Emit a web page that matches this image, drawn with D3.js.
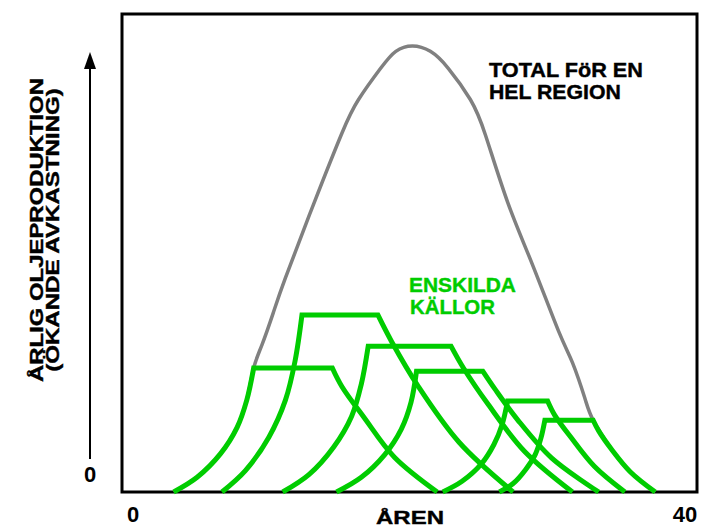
<!DOCTYPE html>
<html>
<head>
<meta charset="utf-8">
<script src="https://cdn.jsdelivr.net/npm/d3@7"></script>
<style>
  body { margin: 0; background: #fff; }
  text { font-family: "Liberation Sans", Arial, Helvetica, sans-serif; font-weight: bold; }
</style>
</head>
<body>
<div id="chart"></div>
<script>
// ------------ data (years, production in % of regional peak)
var xTickLabels = [0, 40];

var totalYears  = [2.8, 4.5, 6.2, 7.4, 8.1, 8.6, 9.2, 10.0, 10.9, 13.0, 15.0, 16.2, 17.8, 18.9, 20.1,
                   21.4, 22.7, 24.3, 25.4, 27.0, 28.8, 30.7, 31.7, 32.6, 33.2, 34.5, 35.9, 37.7];
var totalValues = [0, 3.3, 8.6, 14.5, 20.6, 27.8, 33, 40, 48, 65, 80.5, 88, 95, 98.8, 100,
                   98.8, 95, 88, 80, 65, 51, 36, 29, 21, 16.1, 9.7, 4.5, 0];

// each source: rising part (up to plateau) and declining part (from plateau end)
var wellRiseYears = [
  [2.8, 4.5, 6.2, 7.4, 8.1, 8.6],
  [6.3, 8.0, 9.7, 10.9, 11.6, 12.1],
  [10.7, 12.6, 14.4, 15.7, 16.4, 16.9],
  [14.6, 16.4, 18.1, 19.3, 20.0, 20.4],
  [22.3, 23.7, 25.1, 26.0, 26.6, 27.0],
  [26.4, 27.4, 28.3, 29.0, 29.4, 29.7]
];
var wellRiseValues = [
  [0, 3.3, 8.6, 14.5, 20.6, 27.8],
  [0, 4.8, 12.3, 20.6, 29.4, 39.7],
  [0, 3.9, 10.1, 17.0, 24.2, 32.7],
  [0, 3.3, 8.4, 14.1, 20.1, 27.1],
  [0, 2.4, 6.3, 10.6, 15.1, 20.4],
  [0, 1.9, 5.0, 8.4, 11.9, 16.1]
];
var wellDeclineYears = [
  [14.3, 15.0, 16.6, 18.8, 21.9],
  [17.6, 18.6, 20.5, 23.5, 27.4],
  [22.9, 23.8, 25.6, 28.2, 31.7],
  [25.2, 26.1, 27.7, 30.2, 33.6],
  [29.9, 30.4, 31.6, 33.3, 35.5],
  [33.2, 33.6, 34.5, 35.9, 37.7]
];
var wellDeclineValues = [
  [27.8, 23.6, 16.7, 7.8, 0],
  [39.7, 33.7, 23.8, 11.1, 0],
  [32.7, 27.8, 19.6, 9.2, 0],
  [27.1, 23.0, 16.3, 7.6, 0],
  [20.4, 17.3, 12.2, 5.7, 0],
  [16.1, 13.7, 9.7, 4.5, 0]
];

// ------------ svg
var svgWidth = 701, svgHeight = 528;
var svg = d3.select("#chart").append("svg")
  .attr("width", svgWidth)
  .attr("height", svgHeight);

var frame = {left: 122, top: 14, right: 697, bottom: 492};

var xScale = d3.scaleLinear().domain([0, 40]).range([135, 687]);
var yScale = d3.scaleLinear().domain([0, 100]).range([frame.bottom, 46]);

// frame around the plot
svg.append("rect")
  .attr("x", frame.left)
  .attr("y", frame.top)
  .attr("width", frame.right - frame.left)
  .attr("height", frame.bottom - frame.top)
  .attr("fill", "none")
  .attr("stroke", "#000")
  .attr("stroke-width", 3);

var line = d3.line()
  .x(d => xScale(d[0]))
  .y(d => yScale(d[1]))
  .curve(d3.curveCatmullRom.alpha(0.5));

// total for the region (grey bell), natural spline keeps the top round
var totalPts = totalYears.map((t, i) => [t, totalValues[i]]);
svg.append("path")
  .attr("d", line.curve(d3.curveNatural)(totalPts))
  .attr("fill", "none")
  .attr("stroke", "#808080")
  .attr("stroke-width", 3.5);
line.curve(d3.curveCatmullRom.alpha(0.5));

// individual sources: rise + flat plateau + decline in one path
wellRiseYears.forEach(function(years, i) {
  var rise = years.map((t, j) => [t, wellRiseValues[i][j]]);
  var decline = wellDeclineYears[i].map((t, j) => [t, wellDeclineValues[i][j]]);
  var d = line(rise) + line(decline).replace(/^M/, "L");
  svg.append("path")
    .attr("d", d)
    .attr("fill", "none")
    .attr("stroke", "#00cc00")
    .attr("stroke-width", 5);
});

// text stretched sideways to the width seen in the picture
function wideText(parent, str, x, y, width, size, anchor, color) {
  var g = parent.append("g").attr("transform", `translate(${x},${y})`);
  var t = g.append("text")
    .attr("text-anchor", anchor)
    .style("font-size", size + "px")
    .style("fill", color || "#000")
    .style("stroke", color || "#000")
    .style("stroke-width", 0.4)
    .text(str);
  var w = t.node().getComputedTextLength();
  t.attr("transform", `scale(${width / w},1)`);
  return g;
}

// x tick labels
svg.selectAll(".xtick")
  .data(xTickLabels)
  .enter()
  .append("text")
  .attr("class", "xtick")
  .attr("x", d => xScale(d) - 2)
  .attr("y", 522)
  .attr("text-anchor", "middle")
  .style("font-size", "22px")
  .text(d => d);

wideText(svg, "ÅREN", 410, 524, 68, 19, "middle");

// y axis: 0 label and arrow
svg.append("text")
  .attr("x", 90)
  .attr("y", 482)
  .attr("text-anchor", "middle")
  .style("font-size", "22px")
  .text("0");

svg.append("line")
  .attr("x1", 90).attr("x2", 90)
  .attr("y1", 459).attr("y2", 66)
  .attr("stroke", "#000")
  .attr("stroke-width", 2);
svg.append("path")
  .attr("d", "M90,52 L84,69 L96,69 Z")
  .attr("fill", "#000");

// y title, two lines
var yTitle = svg.append("g")
  .attr("transform", "translate(0,230) rotate(-90)");
wideText(yTitle, "ÅRLIG OLJEPRODUKTION", 0, 43, 304, 19, "middle");
wideText(yTitle, "(ÖKANDE AVKASTNING)", 0, 59, 284, 19, "middle");

// annotations
wideText(svg, "TOTAL FöR EN", 489, 77, 154, 20, "start");
wideText(svg, "HEL REGION", 489, 99, 132, 20, "start");
wideText(svg, "ENSKILDA", 409, 292, 107, 20, "start", "#00cc00");
wideText(svg, "KÄLLOR", 410, 314, 85, 20, "start", "#00cc00");
</script>
</body>
</html>
